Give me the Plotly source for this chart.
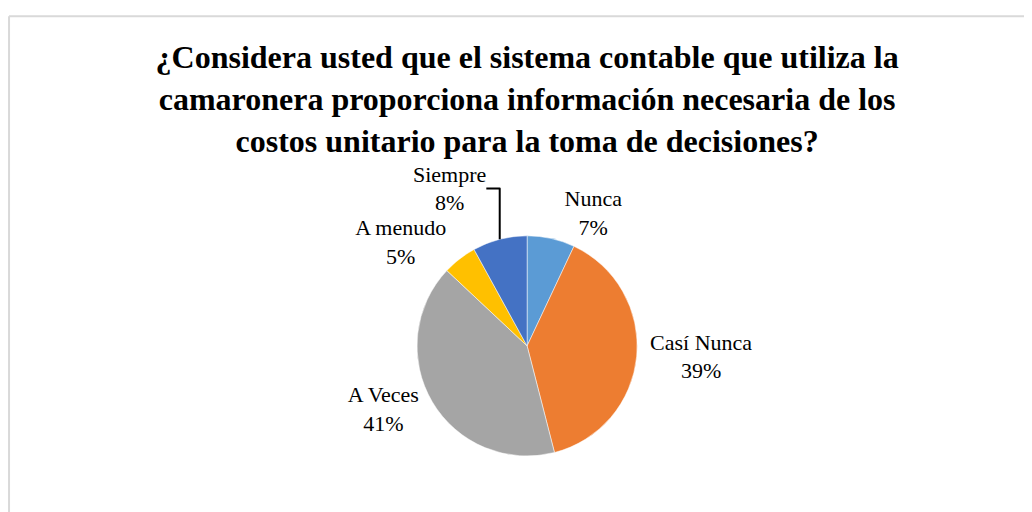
import plotly.graph_objects as go

categories = ["Nunca", "Casí Nunca", "A Veces", "A menudo", "Siempre"]
values = [7, 39, 41, 5, 8]
colors = ["#5B9BD5", "#ED7D31", "#A5A5A5", "#FFC000", "#4472C4"]
title_text = ("¿Considera usted que el sistema contable que utiliza la<br>"
              "camaronera proporciona información necesaria de los<br>"
              "costos unitario para la toma de decisiones?")

fig = go.Figure(go.Pie(
    labels=categories,
    values=values,
    sort=False,
    direction="clockwise",
    rotation=0,
    marker=dict(colors=colors, line=dict(color="white", width=0.5)),
    texttemplate="%{label}<br>%{percent:.0%}",
    textposition="outside",
    textfont=dict(family="Liberation Serif", size=22, color="#000000"),
    domain=dict(x=[0.006, 1.0], y=[0.125, 0.555]),
    showlegend=False,
    hoverinfo="label+percent",
    automargin=False,
))

fig.update_layout(
    width=1032, height=512,
    autosize=False,
    margin=dict(l=0, r=0, t=0, b=0, pad=0),
    paper_bgcolor="white",
    plot_bgcolor="white",
    title=dict(
        text=title_text,
        x=0.503, xanchor="center",
        y=0.882, yanchor="top", yref="container",
        font=dict(family="Liberation Serif", size=32, color="#000000", weight="bold"),
    ),
    shapes=[
        dict(type="line", xref="paper", yref="paper", x0=0.001, x1=1.0, y0=0.984, y1=0.984,
             line=dict(color="#D9D9D9", width=2)),
        dict(type="line", xref="paper", yref="paper", x0=0.001, x1=0.001, y0=0.0, y1=0.984,
             line=dict(color="#D9D9D9", width=2)),
    ],
)

fig.write_html("out.html")
